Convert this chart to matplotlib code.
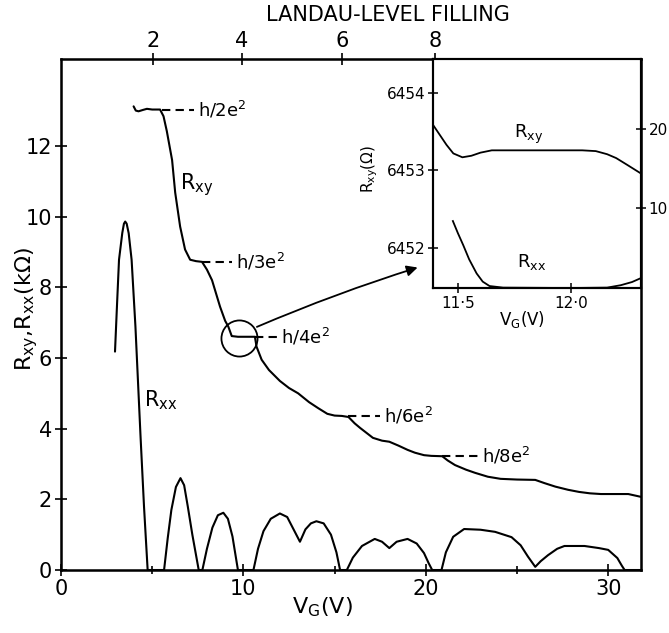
import matplotlib
matplotlib.use("Agg")
import matplotlib.pyplot as plt
from matplotlib.ticker import FixedLocator, FixedFormatter

# Main panel: Hall resistance R_xy (kOhm) against gate voltage V_G (V)
rxy_vg = [3.98, 4.1, 4.25, 4.5, 4.71, 5.0, 5.43, 5.62, 5.8, 6.09, 6.26, 6.53, 6.8, 7.08,
          7.4, 7.73, 8.0, 8.28, 8.72, 9.0, 9.17, 9.36, 9.7, 10.1, 10.63, 10.72, 11.0, 11.4,
          12.0, 12.5, 13.0, 13.6, 14.1, 14.6, 15.0, 15.4, 15.76, 16.1, 16.4, 16.8, 17.1,
          17.6, 18.0, 18.5, 19.0, 19.4, 19.9, 20.3, 20.9, 21.2, 21.6, 22.2, 22.7, 23.4,
          24.1, 25.0, 26.0, 26.5, 27.1, 27.8, 28.4, 29.0, 29.6, 30.4, 31.1, 31.8]
rxy_k = [13.12, 13.0, 12.98, 13.02, 13.05, 13.03, 13.03, 12.84, 12.42, 11.6, 10.68, 9.72,
         9.07, 8.78, 8.74, 8.72, 8.5, 8.2, 7.45, 7.05, 6.89, 6.62, 6.6, 6.6, 6.6, 6.32,
         5.95, 5.66, 5.35, 5.15, 5.0, 4.75, 4.58, 4.42, 4.37, 4.36, 4.33, 4.15, 4.02, 3.86,
         3.74, 3.66, 3.63, 3.52, 3.4, 3.32, 3.25, 3.23, 3.22, 3.1, 2.97, 2.84, 2.75, 2.64,
         2.58, 2.56, 2.55, 2.46, 2.36, 2.27, 2.21, 2.17, 2.15, 2.15, 2.15, 2.07]

# Longitudinal resistance R_xx (kOhm)
rxx_vg = [2.96, 3.07, 3.18, 3.36, 3.45, 3.52, 3.6, 3.71, 3.87, 4.08, 4.36, 4.55, 4.75,
          5.65, 5.85, 6.05, 6.3, 6.55, 6.75, 6.95, 7.2, 7.55, 7.75, 8.0, 8.3, 8.6, 8.9,
          9.15, 9.4, 9.7, 10.55, 10.8, 11.1, 11.5, 12.0, 12.4, 12.8, 13.1, 13.4, 13.7,
          14.0, 14.4, 14.8, 15.1, 15.3, 15.67, 16.0, 16.5, 17.2, 17.6, 18.0, 18.4, 19.0,
          19.5, 19.9, 20.15, 20.35, 20.86, 21.1, 21.5, 22.1, 23.0, 23.8, 24.7, 25.2, 25.6,
          26.0, 26.3, 26.7, 27.2, 27.6, 28.7, 29.5, 30.0, 30.5, 30.75, 30.9, 31.8]
rxx_k = [6.18, 7.5, 8.78, 9.54, 9.8, 9.86, 9.8, 9.53, 8.78, 6.89, 3.78, 1.8, 0.0,
         0.0, 0.9, 1.7, 2.35, 2.6, 2.4, 1.8, 1.0, 0.0, 0.0, 0.6, 1.2, 1.55, 1.62,
         1.45, 0.95, 0.0, 0.0, 0.6, 1.1, 1.45, 1.6, 1.5, 1.1, 0.8, 1.15, 1.32,
         1.38, 1.32, 1.0, 0.5, 0.0, 0.0, 0.35, 0.68, 0.88, 0.8, 0.62, 0.8, 0.88,
         0.75, 0.48, 0.2, 0.0, 0.0, 0.5, 0.94, 1.16, 1.14, 1.08, 0.93, 0.7, 0.38,
         0.09, 0.25, 0.42, 0.6, 0.68, 0.68, 0.62, 0.57, 0.34, 0.12, 0.0, 0.0]

# Quantised plateaus h/ie^2
plateau_labels = ["h/2e$^\\mathregular{2}$", "h/3e$^\\mathregular{2}$", "h/4e$^\\mathregular{2}$",
                  "h/6e$^\\mathregular{2}$", "h/8e$^\\mathregular{2}$"]
plateau_r = [13.03, 8.72, 6.6, 4.36, 3.22]
plateau_from = [5.55, 7.75, 10.65, 15.76, 20.9]
plateau_to = [7.3, 9.4, 11.85, 17.5, 22.9]

# Top axis: Landau-level filling at gate voltage
filling = ["2", "4", "6", "8"]
filling_vg = [5.04, 9.9, 15.4, 20.5]

# Inset: plateau h/4e^2 in detail
in_rxy_vg = [11.39, 11.42, 11.45, 11.48, 11.52, 11.56, 11.6, 11.65, 11.75, 11.9, 12.05,
             12.11, 12.16, 12.2, 12.25, 12.31]
in_rxy_ohm = [6453.59, 6453.46, 6453.33, 6453.22, 6453.17, 6453.19, 6453.23, 6453.26,
              6453.26, 6453.26, 6453.26, 6453.25, 6453.21, 6453.16, 6453.07, 6452.96]
in_rxx_vg = [11.478, 11.5, 11.524, 11.55, 11.583, 11.61, 11.64, 11.7, 12.0, 12.16, 12.22,
             12.27, 12.31]
in_rxx_ohm = [8.41, 6.9, 5.37, 3.6, 1.83, 0.8, 0.25, 0.05, 0.0, 0.05, 0.35, 0.75, 1.25]

zoom_centre = (9.74, 6.57)
arrow_from = (10.74, 6.88)
arrow_to = (19.55, 8.56)

plt.rcParams["font.family"] = ["DejaVu Sans"]
plt.rcParams["mathtext.default"] = "regular"

fig = plt.figure(figsize=(6.69, 6.33), dpi=100)
ax = fig.add_axes([0.0912, 0.0995, 0.8670, 0.8073])

ax.plot(rxy_vg, rxy_k, color="black", lw=1.5, solid_capstyle="round")
ax.plot(rxx_vg, rxx_k, color="black", lw=1.5, solid_capstyle="round")

for lab, r, x0, x1 in zip(plateau_labels, plateau_r, plateau_from, plateau_to):
    ax.plot([x0, x1], [r, r], color="black", lw=1.5, dashes=(4, 2.5))
    ax.text(x1 + 0.2, r, lab, fontsize=13, va="center", ha="left")

ax.text(6.55, 10.9, "R$_{xy}$", fontsize=15, va="center", ha="left")
ax.text(4.55, 4.8, "R$_{xx}$", fontsize=15, va="center", ha="left")

# circle around the h/4e^2 plateau and arrow to the inset
ax.plot(*zoom_centre, marker="o", ms=26, mfc="none", mec="black", mew=1.3)
ax.annotate("", xy=arrow_to, xytext=arrow_from,
            arrowprops=dict(arrowstyle="-|>", lw=1.3, color="black", mutation_scale=16,
                            shrinkA=0, shrinkB=0, connectionstyle="arc3,rad=-0.025"))

ax.set_xlim(0, 31.8)
ax.set_ylim(0, 14.46)
ax.set_xticks([0, 10, 20, 30])
ax.set_xticks([5, 15, 25], minor=True)
ax.set_yticks(range(0, 13, 2))
ax.tick_params(which="both", direction="inout", top=False, right=False,
               labelsize=15, width=1.2, pad=2)
ax.tick_params(which="major", length=9)
ax.tick_params(which="minor", length=6)
for s in ax.spines.values():
    s.set_linewidth(1.8)

ax.set_ylabel("R$_{xy}$,R$_{xx}$(kΩ)", fontsize=16)
ax.yaxis.set_label_coords(-0.037, 0.51)
ax.set_xlabel("V$_G$(V)", fontsize=16)
ax.xaxis.set_label_coords(0.45, -0.05)

top = ax.twiny()
top.set_xlim(ax.get_xlim())
top.xaxis.set_major_locator(FixedLocator(filling_vg))
top.xaxis.set_major_formatter(FixedFormatter(filling))
top.tick_params(direction="inout", length=9, width=1.2, labelsize=15, pad=1)
fig.text(0.58, 0.977, "LANDAU-LEVEL FILLING", fontsize=15, ha="center", va="center")

# inset
axin = fig.add_axes([0.6472, 0.545, 0.3110, 0.3617])
axin.plot(in_rxy_vg, in_rxy_ohm, color="black", lw=1.3)
axin.set_xlim(11.39, 12.31)
axin.set_ylim(6451.48, 6454.44)
axin.set_xticks([11.5, 12.0])
axin.set_xticklabels(["11·5", "12·0"])
axin.set_yticks([6452, 6453, 6454])
axin.set_yticklabels(["6452", "6453", "6454"])
axin.tick_params(direction="inout", length=7, width=1.1, labelsize=11, pad=2)
axin.text(11.815, 6453.47, "R$_{xy}$", fontsize=13, ha="center", va="center")
axin.text(11.824, 6451.82, "R$_{xx}$", fontsize=13, ha="center", va="center")
axin.set_ylabel("R$_{xy}$(Ω)", fontsize=11)
axin.yaxis.set_label_coords(-0.255, 0.52)
axin.set_xlabel("V$_G$(V)", fontsize=12)
axin.xaxis.set_label_coords(0.43, -0.09)
for s in axin.spines.values():
    s.set_linewidth(1.5)

axin2 = axin.twinx()
axin2.plot(in_rxx_vg, in_rxx_ohm, color="black", lw=1.3)
axin2.set_ylim(0, 28.75)
axin2.set_yticks([10, 20])
axin2.tick_params(direction="inout", length=7, width=1.1, labelsize=11, pad=2)
for s in axin2.spines.values():
    s.set_linewidth(1.5)

fig.savefig("out.png", dpi=100)
